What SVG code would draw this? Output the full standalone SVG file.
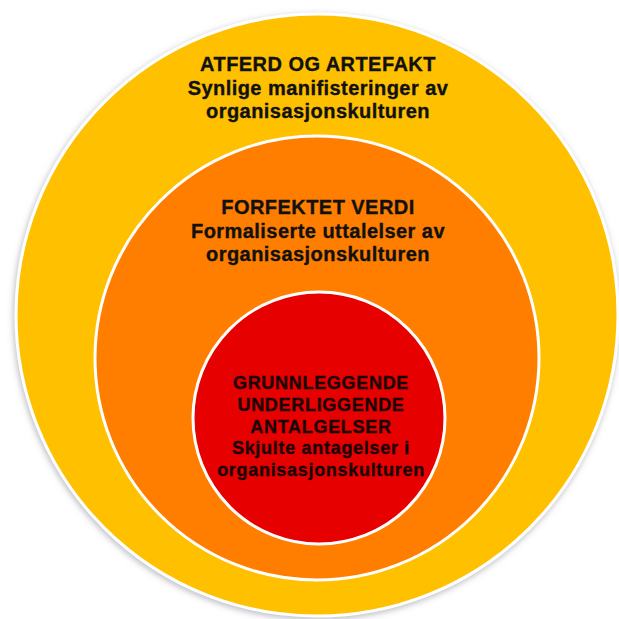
<svg xmlns="http://www.w3.org/2000/svg" width="619" height="619" viewBox="0 0 619 619">
  <defs>
    <filter id="shadow" x="-10%" y="-10%" width="120%" height="120%">
      <feDropShadow dx="-1" dy="2" stdDeviation="3" flood-color="#8a8a99" flood-opacity="0.6"/>
    </filter>
  </defs>
  <style>
    .ring { stroke: #ffffff; stroke-width: 3; }
    .t { font-family: "Liberation Sans", Arial, Helvetica, sans-serif; font-weight: bold; text-anchor: middle; fill: #111111; stroke: #111111; stroke-width: 0.35px; }
    .big { font-size: 20px; letter-spacing: 0.45px; }
    .small { font-size: 18px; letter-spacing: 0.7px; fill: #1a0505; stroke: #1a0505; }
  </style>
  <rect width="619" height="619" fill="#ffffff"/>
  <g id="atferd-og-artefakt">
    <circle class="ring" cx="317" cy="315" r="301" fill="#FFC000" filter="url(#shadow)"/>
    <text class="t big" x="318" y="71">ATFERD OG ARTEFAKT</text>
    <text class="t big" x="318" y="95">Synlige manifisteringer av</text>
    <text class="t big" x="318" y="118">organisasjonskulturen</text>
  </g>
  <g id="forfektet-verdi">
    <circle class="ring" cx="317" cy="358" r="222" fill="#FF7E00"/>
    <text class="t big" x="318" y="214">FORFEKTET VERDI</text>
    <text class="t big" x="318" y="237.5">Formaliserte uttalelser av</text>
    <text class="t big" x="318" y="261">organisasjonskulturen</text>
  </g>
  <g id="grunnleggende-antagelser">
    <circle class="ring" cx="319" cy="418" r="126" fill="#E60000"/>
    <text class="t small" x="321" y="389">GRUNNLEGGENDE</text>
    <text class="t small" x="321" y="411">UNDERLIGGENDE</text>
    <text class="t small" x="321" y="432.5">ANTALGELSER</text>
    <text class="t small" x="321" y="454">Skjulte antagelser i</text>
    <text class="t small" x="321" y="476">organisasjonskulturen</text>
  </g>
</svg>
